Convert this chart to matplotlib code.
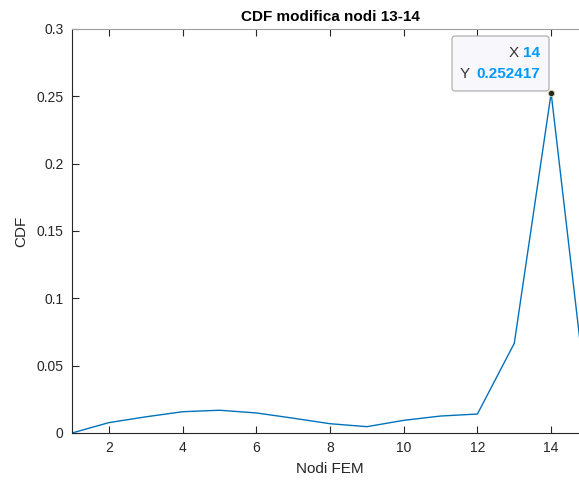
import numpy as np
import matplotlib.pyplot as plt
from matplotlib.patches import FancyBboxPatch

plt.rcParams['font.family'] = ['Liberation Sans', 'DejaVu Sans']

# data
nodi = [1, 2, 3, 4, 5, 6, 7, 8, 9, 10, 11, 12, 13, 14, 15]
cdf = [0.0, 0.0077, 0.012, 0.0158, 0.0169, 0.0149, 0.011, 0.0069, 0.0047,
       0.0094, 0.0126, 0.0141, 0.0666, 0.252417, 0.017]
x_ticks = [2, 4, 6, 8, 10, 12, 14]
y_ticks = [0, 0.05, 0.1, 0.15, 0.2, 0.25, 0.3]
y_labels = ['0', '0.05', '0.1', '0.15', '0.2', '0.25', '0.3']
tip_x = 14
tip_y = 0.252417

fig = plt.figure(figsize=(5.79, 4.84), dpi=100)
W, H = 579, 484
# axes: x=1 at px 72, x=15 at ~588 (cropped by the figure edge)
left, right, top, bottom = 72, 588, 29, 433
ax = fig.add_axes([left / W, 1 - bottom / H, (right - left) / W, (bottom - top) / H])

ax.plot(nodi, cdf, color='#0072BD', lw=1.0)
ax.plot([tip_x], [tip_y], 'o', ms=4.5, mfc='#262626', mec='#d9d9a0', mew=0.6, zorder=5)

ax.set_xlim(1, 15)
ax.set_ylim(0, 0.3)
ax.set_xticks(x_ticks)
ax.set_yticks(y_ticks)
ax.set_yticklabels(y_labels)
ax.tick_params(direction='in', length=5, width=0.8, colors='#262626', labelsize=10,
               top=True, pad=6)
for s in ['left', 'bottom']:
    ax.spines[s].set_color('#262626')
    ax.spines[s].set_linewidth(0.8)
ax.spines['top'].set_color('#a0a0a0')
ax.spines['top'].set_linewidth(0.8)
ax.spines['right'].set_visible(False)

ax.set_xlabel('Nodi FEM', fontsize=11, color='#262626', labelpad=5)
ax.set_ylabel('CDF', fontsize=11, color='#262626', labelpad=6)
ax.set_title('CDF modifica nodi 13-14', fontsize=11, fontweight='bold', pad=6)

# data tip box
bx0, by0, bx1, by1 = 452 / W, 1 - 91 / H, 549 / W, 1 - 36 / H
box = FancyBboxPatch((bx0, by0), bx1 - bx0, by1 - by0,
                     boxstyle='round,pad=0,rounding_size=0.006',
                     transform=fig.transFigure, fc='#f8f8fc', ec='#a8a8a8', lw=0.8,
                     zorder=10)
fig.patches.append(box)
fs = 11
fig.text(519 / W, 1 - 53 / H, 'X', ha='right', va='center', fontsize=fs, color='#333333', zorder=11)
fig.text(540 / W, 1 - 53 / H, '14', ha='right', va='center', fontsize=fs,
         color='#0099ff', fontweight='bold', zorder=11)
fig.text(470 / W, 1 - 74 / H, 'Y', ha='right', va='center', fontsize=fs, color='#333333', zorder=11)
fig.text(540 / W, 1 - 74 / H, '0.252417', ha='right', va='center', fontsize=fs,
         color='#0099ff', fontweight='bold', zorder=11)

fig.savefig('out.png', dpi=100)
